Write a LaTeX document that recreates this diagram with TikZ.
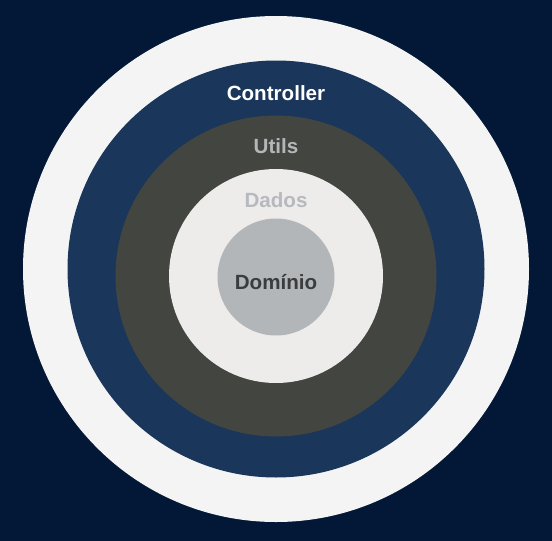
\documentclass[tikz,border=0pt]{standalone}
\usepackage{fontspec}
\setmainfont{Liberation Sans}
\definecolor{bgnavy}{HTML}{031836}
\definecolor{ringwhite}{HTML}{F4F4F4}
\definecolor{ringblue}{HTML}{1A365A}
\definecolor{ringdark}{HTML}{434541}
\definecolor{ringlight}{HTML}{EDECEA}
\definecolor{coregray}{HTML}{B3B6B9}
\definecolor{txtgray}{HTML}{B4B6B8}
\definecolor{txtdados}{HTML}{B6B9BE}
\definecolor{txtdark}{HTML}{3B3C3D}
\tikzset{
  ring/.style={circle, inner sep=0pt, draw=none},
  lbl/.style={anchor=base, inner sep=0pt, font=\fontsize{20.6}{24}\selectfont\bfseries}
}
\begin{document}
\begin{tikzpicture}[x=1pt,y=-1pt]
\fill[bgnavy] (0,0) rectangle (552,541);
\useasboundingbox (0,0) rectangle (552,541);
\node[ring, fill=ringwhite, minimum size=506pt] (outer) at (276,269) {};
\node[ring, fill=ringblue, minimum size=417pt] (blue) at (276,269) {};
\node[ring, fill=ringdark, minimum size=321pt] (dark) at (276,276) {};
\node[ring, fill=ringlight, minimum size=214pt] (light) at (276,276) {};
\node[ring, fill=coregray, minimum size=117pt] (core) at (276,277) {};
\node[lbl, text=white] (tctrl) at (276,100) {Controller};
\node[lbl, text=txtgray] (tutils) at (276,153) {Utils};
\node[lbl, text=txtdados] (tdados) at (276,207) {Dados};
\node[lbl, text=txtdark] (tdom) at (276,289) {Domínio};
\end{tikzpicture}
\end{document}
